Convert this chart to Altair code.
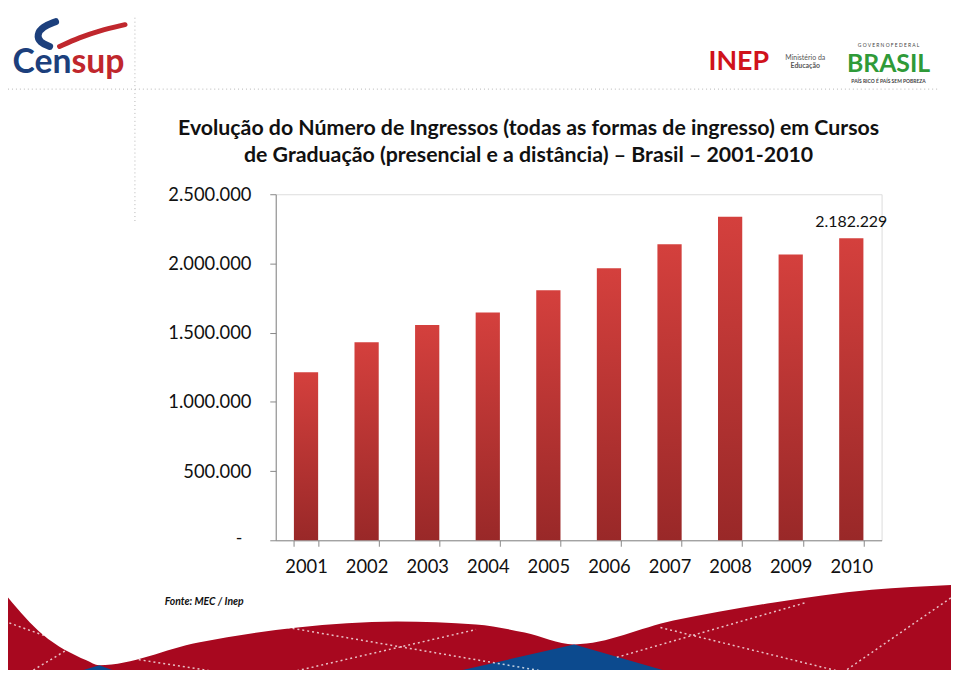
import altair as alt
import pandas as pd

# ---- data ----
years = ["2001", "2002", "2003", "2004", "2005", "2006", "2007", "2008", "2009", "2010"]
ingressos = [1214000, 1430000, 1555000, 1646000, 1806000, 1965000, 2138000, 2337000, 2065000, 2182229]
y_ticks = [0, 500000, 1000000, 1500000, 2000000, 2500000]
labelled_year = "2010"

title_lines = [
    "Evolução do Número de Ingressos (todas as formas de ingresso) em Cursos",
    "de Graduação (presencial e a distância) – Brasil – 2001-2010",
]
source_note = "Fonte: MEC / Inep"

# decorative wave (page pixel coordinates)
wave_x = [0, 43, 87, 100, 200, 300, 400, 480, 529, 579, 679, 779, 879, 959]
wave_y = [590, 637, 663, 668, 645, 630, 624, 627, 635, 647, 623, 605, 592, 587]
blue1_x = [444, 579, 686]
blue1_y = [678, 647, 678]
blue2_x = [67, 100, 127]
blue2_y = [678, 668, 678]
# dotted white lines on the wave: x1, y1, x2, y2
dots_x1 = [0, 25, 125, 290, 280, 622, 666, 846]
dots_y1 = [622, 678, 660, 630, 678, 660, 630, 678]
dots_x2 = [50, 80, 240, 700, 480, 812, 862, 959]
dots_y2 = [640, 645, 678, 700, 632, 605, 678, 600]

FONT = "Lato"
OX, OY = 278, 193          # page position of plot origin
W, H = 611, 349

def px(x):
    return x - OX

def py(y):
    return y - OY

df = pd.DataFrame({"year": years, "value": ingressos})
one = pd.DataFrame({"a": [1]})

xscale = alt.Scale(paddingInner=0.6, paddingOuter=0.3)
yscale = alt.Scale(domain=[0, 2500000], nice=False)

bar_grad = alt.Gradient(
    gradient="linear",
    stops=[alt.GradientStop(color="#d4403d", offset=0),
           alt.GradientStop(color="#992828", offset=1)],
    x1=0, x2=0, y1=0, y2=1,
)

bars = alt.Chart(df).mark_bar(color=bar_grad).encode(
    x=alt.X("year:N", scale=xscale, title=None,
            axis=alt.Axis(labelAngle=0, labelFont=FONT, labelFontSize=18.5, labelColor="#111",
                          domainColor="#888", tickColor="#888", tickSize=6, tickBand="extent",
                          labelPadding=26, labelBaseline="alphabetic", grid=False)),
    y=alt.Y("value:Q", scale=yscale, title=None,
            axis=alt.Axis(values=y_ticks, format=",d", labelFont=FONT, labelFontSize=18.5,
                          labelColor="#111", domainColor="#888", tickColor="#888", tickSize=6,
                          labelPadding=19, gridColor="#8c8c8c", gridWidth=1,
                          labelExpr="datum.value == 0 ? '' : datum.label")),
)

value_label = alt.Chart(df).transform_filter(
    alt.datum.year == labelled_year
).mark_text(font=FONT, fontSize=16, color="#111", baseline="alphabetic", dy=-11).encode(
    x=alt.X("year:N", scale=xscale),
    y=alt.Y("value:Q", scale=yscale),
    text=alt.Text("value:Q", format=",d"),
)

zero_label = alt.Chart(one).mark_text(text="-", font=FONT, fontSize=18, color="#111",
                                      baseline="middle", align="center").encode(
    x=alt.value(px(241)), y=alt.value(py(541)))

def deco_text(text, x, y, size, color, weight="normal", style="normal", align="center"):
    return alt.Chart(one).mark_text(
        text=text, font=FONT, fontSize=size, color=color, fontWeight=weight,
        fontStyle=style, align=align, baseline="alphabetic",
    ).encode(x=alt.value(px(x)), y=alt.value(py(y)))

texts = [
    deco_text(title_lines[0], 533, 133, 21.5, "#111", weight="bold"),
    deco_text(title_lines[1], 533, 161, 21.5, "#111", weight="bold"),
    deco_text(source_note, 166, 607, 10.5, "#111", weight="bold", style="italic", align="left"),
    deco_text("Cen", 72, 71, 34, "#1c3f7c", weight="bold", align="right"),
    deco_text("sup", 72, 71, 34, "#c0272d", weight="bold", align="left"),
    deco_text("INEP", 745, 68, 27, "#d0121b", weight="bold"),
    deco_text("Ministério da", 812, 58, 7, "#555"),
    deco_text("Educação", 812, 66, 7, "#555", weight="bold"),
    deco_text("G O V E R N O   F E D E R A L", 896, 45, 5, "#444"),
    deco_text("BRASIL", 896, 70, 25, "#2f9a38", weight="bold"),
    deco_text("PAÍS RICO É PAÍS SEM POBREZA", 896, 81, 5, "#444", weight="bold"),
]

hline = alt.Chart(one).mark_rule(color="#b5b5b5", strokeDash=[1, 3], strokeWidth=1).encode(
    x=alt.value(px(0)), x2=alt.value(px(945)), y=alt.value(py(87)))
vline = alt.Chart(one).mark_rule(color="#b5b5b5", strokeDash=[1, 3], strokeWidth=1).encode(
    y=alt.value(py(15)), y2=alt.value(py(222)), x=alt.value(px(136)))

main = alt.layer(bars, value_label, zero_label, hline, vline, *texts)

# decoration layer with page-coordinate scales
pxs = alt.Scale(domain=[0, 959], range=[px(0), px(959)], nice=False, zero=False)
pys = alt.Scale(domain=[0, 678], range=[py(0), py(678)], nice=False, zero=False)

def deco_area(xs, ys, color, interp="monotone"):
    d = pd.DataFrame({"px": xs, "py": ys, "base": [678] * len(xs)})
    return alt.Chart(d).mark_area(color=color, opacity=1, interpolate=interp).encode(
        x=alt.X("px:Q", scale=pxs, axis=None),
        y=alt.Y("py:Q", scale=pys, axis=None),
        y2="base:Q",
    )

def deco_line(xs, ys, color, width):
    d = pd.DataFrame({"px": xs, "py": ys, "i": list(range(len(xs)))})
    return alt.Chart(d).mark_line(color=color, strokeWidth=width, interpolate="basis",
                                  strokeCap="round").encode(
        x=alt.X("px:Q", scale=pxs, axis=None),
        y=alt.Y("py:Q", scale=pys, axis=None),
        order="i:Q",
    )

dots_df = pd.DataFrame({"x1": dots_x1, "y1": dots_y1, "x2": dots_x2, "y2": dots_y2})
dotted = alt.Chart(dots_df).mark_rule(color="white", strokeDash=[2, 3], strokeWidth=1.5,
                                      opacity=0.75).encode(
    x=alt.X("x1:Q", scale=pxs, axis=None),
    y=alt.Y("y1:Q", scale=pys, axis=None),
    x2="x2:Q",
    y2="y2:Q",
)

swoosh_red_x = [60, 80, 100, 126]
swoosh_red_y = [44, 35, 28, 22]
swoosh_blue_x = [56, 43, 37, 40, 50]
swoosh_blue_y = [19, 24, 32, 40, 44]

deco = alt.layer(
    deco_area(wave_x, wave_y, "#a8081f"),
    deco_area(blue1_x, blue1_y, "#0c4a8e", "linear"),
    deco_area(blue2_x, blue2_y, "#0c4a8e", "linear"),
    dotted,
    deco_line(swoosh_red_x, swoosh_red_y, "#c0272d", 5),
    deco_line(swoosh_blue_x, swoosh_blue_y, "#1c3f7c", 7),
)

chart = alt.layer(deco, main).resolve_scale(x="independent", y="independent").properties(
    width=W, height=H,
    autosize=alt.AutoSizeParams(type="none"),
    padding={"left": 270, "top": 185, "right": 70, "bottom": 128},
).configure_view(stroke=None).configure(
    locale=alt.Locale(number=alt.NumberLocale(decimal=",", thousands=".", grouping=[3],
                                              currency=["R$", ""]))
)

chart.save("out.html", embed_options={"renderer": "svg", "actions": False})
